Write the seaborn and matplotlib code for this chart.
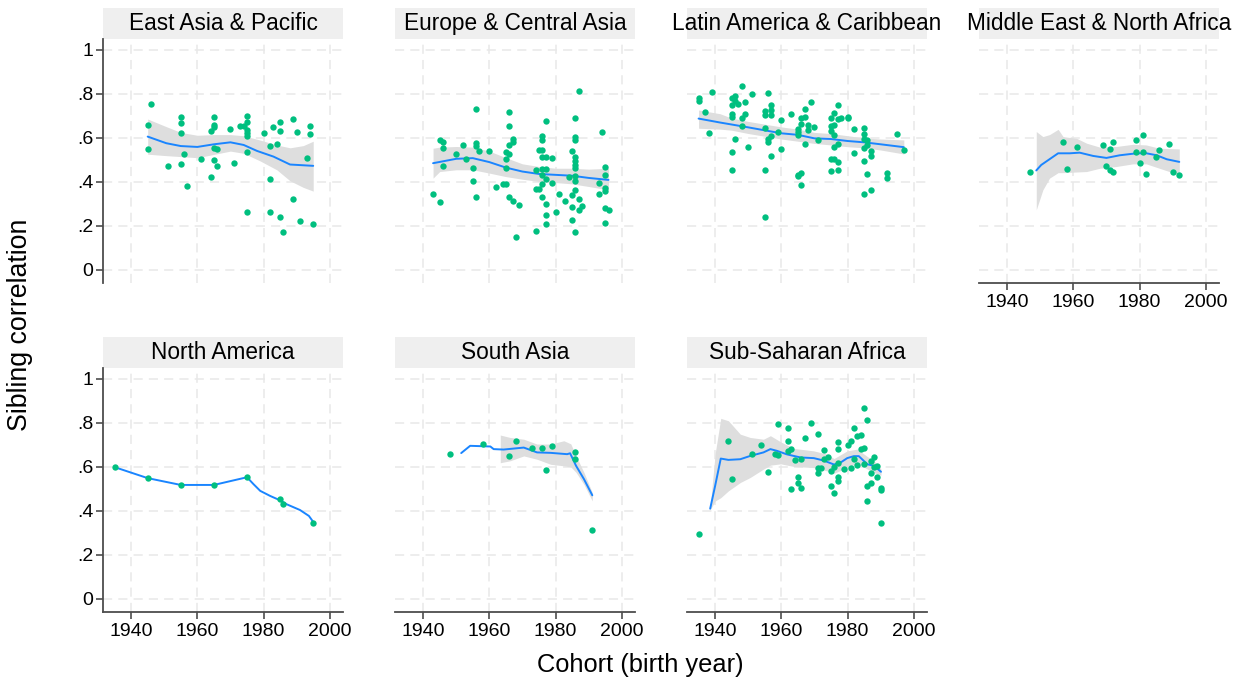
import numpy as np
import pandas as pd
import matplotlib
matplotlib.use("Agg")
import matplotlib.pyplot as plt
import seaborn as sns
from matplotlib.patches import Rectangle

# ---------------------------------------------------------------------------
# Sibling correlations by birth cohort, one panel per World Bank region.
# Each region: observed correlations (points), a local fit and its 95% band.
# ---------------------------------------------------------------------------

# East Asia & Pacific
eap_year = [1946, 1945, 1945, 1951, 1955, 1955, 1955, 1956, 1955, 1957, 1961, 1965, 1965,
            1965, 1964, 1965, 1966, 1965, 1966, 1964, 1970, 1971, 1973, 1974, 1975, 1975,
            1975, 1975, 1975, 1975, 1975, 1980, 1982, 1983, 1984, 1985, 1985, 1982, 1982,
            1985, 1986, 1989, 1990, 1989, 1991, 1993, 1994, 1994, 1995]
eap_corr = [.756, .661, .55, .47, .694, .667, .621, .526, .482, .379, .505, .694, .658,
            .648, .633, .553, .548, .498, .473, .423, .639, .486, .655, .655, .698, .671,
            .636, .624, .611, .538, .264, .623, .561, .648, .571, .673, .633, .414, .264,
            .241, .174, .688, .626, .32, .221, .508, .655, .62, .209]
eap_fit_year = [1945, 1950.6, 1955, 1960, 1965, 1970, 1974, 1978, 1983, 1988, 1995]
eap_fit = [.606, .576, .563, .559, .571, .58, .568, .541, .515, .479, .473]
eap_band_year = [1945, 1950, 1955, 1960, 1965, 1970, 1974, 1979, 1984, 1988, 1992, 1995]
eap_hi = [.686, .655, .625, .612, .615, .615, .61, .59, .568, .555, .565, .585]
eap_lo = [.526, .52, .515, .51, .525, .54, .53, .495, .455, .405, .375, .358]

# Europe & Central Asia
eca_year = [1943, 1945, 1945, 1946, 1946, 1946, 1950, 1952, 1953, 1955, 1955, 1956, 1956,
            1956, 1956, 1957, 1960, 1962, 1964, 1965, 1965, 1965, 1965, 1966, 1966, 1966,
            1966, 1967, 1967, 1966, 1967, 1968, 1969, 1974, 1974, 1974, 1975, 1975, 1976,
            1976, 1976, 1976, 1977, 1977, 1976, 1977, 1976, 1977, 1976, 1976, 1977, 1977,
            1977, 1979, 1979, 1980, 1981, 1983, 1984, 1985, 1985, 1985, 1985, 1986, 1986,
            1986, 1986, 1986, 1986, 1986, 1986, 1986, 1986, 1986, 1987, 1987, 1987, 1988,
            1993, 1993, 1994, 1995, 1995, 1995, 1995, 1995, 1996, 1995]
eca_corr = [.347, .308, .591, .58, .553, .473, .529, .567, .503, .465, .405, .733, .577,
            .564, .33, .539, .539, .376, .391, .391, .505, .464, .536, .718, .656, .526,
            .57, .597, .583, .332, .315, .148, .297, .177, .455, .368, .368, .544, .544,
            .611, .591, .515, .511, .676, .458, .458, .432, .414, .391, .333, .3, .248,
            .208, .509, .394, .264, .344, .314, .42, .539, .342, .285, .226, .692, .606,
            .591, .511, .495, .477, .462, .427, .402, .361, .173, .814, .32, .271, .291,
            .394, .347, .627, .467, .433, .374, .359, .28, .273, .212]
eca_fit_year = [1943, 1950, 1955, 1960, 1965, 1970, 1975, 1980, 1985, 1990, 1996]
eca_fit = [.485, .505, .508, .49, .465, .447, .436, .432, .428, .418, .409]
eca_band_year = [1943, 1945, 1950, 1955, 1960, 1965, 1970, 1975, 1980, 1985, 1990, 1996]
eca_hi = [.553, .558, .561, .558, .54, .51, .482, .47, .462, .462, .458, .462]
eca_lo = [.417, .447, .455, .455, .44, .424, .412, .402, .397, .391, .379, .364]

# Latin America & Caribbean
lac_year = [1935, 1935, 1937, 1938, 1939, 1945, 1945, 1945, 1945, 1945, 1945, 1946, 1946,
            1946, 1947, 1948, 1948, 1948, 1949, 1949, 1950, 1951, 1955, 1955, 1955, 1955,
            1955, 1956, 1956, 1956, 1957, 1957, 1957, 1957, 1957, 1959, 1960, 1960, 1963,
            1965, 1965, 1965, 1965, 1965, 1966, 1966, 1966, 1966, 1967, 1967, 1967, 1968,
            1968, 1969, 1970, 1971, 1975, 1975, 1975, 1975, 1975, 1976, 1976, 1976, 1976,
            1976, 1977, 1977, 1977, 1977, 1977, 1978, 1980, 1980, 1982, 1982, 1985, 1985,
            1985, 1985, 1985, 1985, 1986, 1986, 1986, 1987, 1987, 1987, 1992, 1992, 1995,
            1997]
lac_corr = [.783, .768, .718, .621, .808, .78, .752, .711, .697, .535, .455, .792, .77,
            .594, .755, .835, .689, .653, .762, .708, .558, .798, .724, .706, .647, .455,
            .239, .803, .594, .58, .752, .729, .703, .608, .52, .626, .68, .548, .709,
            .641, .629, .614, .433, .426, .692, .664, .439, .388, .73, .697, .571, .661,
            .638, .764, .65, .589, .689, .655, .633, .505, .448, .715, .659, .614, .558,
            .505, .752, .685, .571, .492, .453, .692, .697, .689, .639, .532, .647, .617,
            .595, .553, .497, .344, .591, .568, .435, .541, .517, .364, .439, .418, .62,
            .544]
lac_fit_year = [1935, 1941.5, 1945, 1950, 1960, 1965, 1970, 1975, 1980, 1985, 1990, 1997]
lac_fit = [.688, .67, .661, .648, .621, .614, .598, .595, .586, .58, .571, .558]
lac_band_year = lac_fit_year
lac_hi = [.727, .71, .69, .675, .65, .64, .625, .62, .61, .6, .595, .591]
lac_lo = [.644, .64, .635, .62, .595, .585, .575, .568, .56, .555, .545, .527]

# Middle East & North Africa
mena_year = [1947, 1957, 1958, 1961, 1969, 1970, 1971, 1971, 1972, 1972, 1979, 1979, 1980,
             1981, 1981, 1982, 1985, 1986, 1989, 1990, 1992]
mena_corr = [.447, .583, .458, .558, .568, .47, .548, .452, .58, .444, .591, .536, .486,
             .612, .535, .436, .511, .547, .574, .444, .43]
mena_fit_year = [1948.8, 1950.3, 1952.8, 1955.4, 1958.9, 1961.9, 1966, 1970, 1974, 1979.1,
                 1982.1, 1985.2, 1988.2, 1992]
mena_fit = [.452, .477, .503, .53, .53, .533, .518, .509, .521, .53, .53, .521, .503, .491]
mena_band_year = [1948.8, 1950.8, 1952.8, 1955.4, 1956.9, 1961, 1964, 1968, 1973, 1978,
                  1982, 1986, 1992]
mena_hi = [.629, .606, .615, .639, .606, .598, .576, .558, .561, .571, .568, .553, .55]
mena_lo = [.273, .364, .417, .442, .442, .445, .447, .462, .47, .482, .482, .462, .432]

# North America
na_year = [1935, 1945, 1955, 1965, 1975, 1985, 1986, 1995]
na_corr = [.599, .549, .517, .518, .553, .453, .433, .343]
na_fit_year = [1936.2, 1945, 1955, 1965, 1975, 1977, 1979, 1982, 1985, 1987, 1991,
               1993.7, 1995]
na_fit = [.593, .549, .518, .518, .553, .521, .491, .468, .448, .43, .404, .377, .35]
na_band_year = []
na_hi = []
na_lo = []

# South Asia
sar_year = [1948, 1958, 1966, 1968, 1973, 1976, 1977, 1979, 1986, 1986, 1991]
sar_corr = [.661, .704, .65, .716, .685, .684, .584, .693, .67, .635, .315]
sar_fit_year = [1951.5, 1954.2, 1960.3, 1961.3, 1964.3, 1970.4, 1974.4, 1978.5, 1983.5,
                1984.4, 1986.2, 1988.6, 1991.1]
sar_fit = [.663, .696, .693, .681, .679, .688, .666, .664, .658, .662, .605, .544, .471]
sar_band_year = [1963.3, 1966.3, 1970.4, 1974.4, 1978.5, 1982.5, 1984.6, 1986.2, 1988.6,
                 1991.1]
sar_hi = [.745, .734, .726, .704, .704, .719, .705, .65, .574, .483]
sar_lo = [.619, .628, .65, .635, .612, .605, .6, .575, .52, .445]

# Sub-Saharan Africa
ssa_year = [1935, 1944, 1945, 1951, 1954, 1956, 1958, 1959, 1959, 1962, 1962, 1962, 1963,
            1963, 1964, 1965, 1965, 1966, 1966, 1967, 1969, 1971, 1971, 1971, 1972, 1973,
            1973, 1974, 1975, 1975, 1976, 1976, 1977, 1977, 1977, 1977, 1977, 1979, 1980,
            1981, 1981, 1982, 1982, 1983, 1983, 1984, 1984, 1985, 1985, 1985, 1986, 1986,
            1986, 1987, 1987, 1987, 1988, 1988, 1989, 1989, 1990, 1990, 1990]
ssa_corr = [.296, .717, .543, .657, .699, .578, .657, .795, .652, .777, .717, .672, .681,
            .498, .631, .555, .526, .635, .505, .73, .798, .751, .594, .574, .596, .678,
            .635, .643, .582, .515, .483, .6, .714, .682, .616, .552, .536, .591, .698,
            .72, .597, .775, .635, .742, .608, .745, .681, .868, .688, .612, .813, .514,
            .447, .626, .574, .529, .646, .599, .605, .556, .505, .495, .343]
ssa_fit_year = [1938.5, 1940, 1941.7, 1944, 1947.6, 1950.6, 1954.6, 1956.7, 1958.7, 1961.7,
                1965.8, 1969.8, 1972.8, 1975.9, 1977.9, 1979.9, 1981.9, 1983.4, 1986,
                1988, 1990.1]
ssa_fit = [.41, .514, .638, .632, .635, .65, .666, .681, .673, .657, .643, .64, .629, .611,
           .62, .64, .649, .649, .612, .605, .578]
ssa_band_year = [1938.5, 1940, 1941.7, 1944, 1947.6, 1950.6, 1954.6, 1956.7, 1959.8,
                 1963.8, 1969.8, 1973.8, 1975.9, 1979.9, 1982.9, 1986, 1988, 1990.1]
ssa_hi = [.415, .66, .821, .81, .749, .734, .726, .742, .714, .684, .673, .658, .638, .673,
          .681, .647, .628, .59]
ssa_lo = [.405, .445, .46, .491, .529, .552, .59, .608, .614, .602, .597, .582, .571, .597,
          .617, .59, .574, .562]

region_names = ["East Asia & Pacific", "Europe & Central Asia", "Latin America & Caribbean",
                "Middle East & North Africa", "North America", "South Asia",
                "Sub-Saharan Africa"]

x_ticks = [1940, 1960, 1980, 2000]
y_ticks = [0, .2, .4, .6, .8, 1]
y_tick_labels = ["0", ".2", ".4", ".6", ".8", "1"]

series = [
    (eap_year, eap_corr, eap_fit_year, eap_fit, eap_band_year, eap_lo, eap_hi),
    (eca_year, eca_corr, eca_fit_year, eca_fit, eca_band_year, eca_lo, eca_hi),
    (lac_year, lac_corr, lac_fit_year, lac_fit, lac_band_year, lac_lo, lac_hi),
    (mena_year, mena_corr, mena_fit_year, mena_fit, mena_band_year, mena_lo, mena_hi),
    (na_year, na_corr, na_fit_year, na_fit, na_band_year, na_lo, na_hi),
    (sar_year, sar_corr, sar_fit_year, sar_fit, sar_band_year, sar_lo, sar_hi),
    (ssa_year, ssa_corr, ssa_fit_year, ssa_fit, ssa_band_year, ssa_lo, ssa_hi),
]

points = pd.concat(
    [pd.DataFrame({"region": name, "cohort": s[0], "corr": s[1]})
     for name, s in zip(region_names, series)],
    ignore_index=True)

# ---------------------------------------------------------------------------
sns.set_style("white")
plt.rcParams["font.family"] = ["Liberation Sans", "DejaVu Sans"]
plt.rcParams["text.color"] = "black"

GREEN = "#00bf7f"
BLUE = "#1a85ff"
BAND = "#dedede"
STRIP = "#efefef"
GRID = "#e8e8e8"
AXIS = "#4d4d4d"

W, H = 1241, 681
fig = plt.figure(figsize=(W / 100, H / 100), dpi=100)

col_left = [103, 395, 687, 979]
row_top = [39, 368]
panel_w, panel_h = 240, 244
strip_h = 31

# (column, row, show y axis, show x axis)
layout = [(0, 0, True, False), (1, 0, False, False), (2, 0, False, False),
          (3, 0, False, True), (0, 1, True, True), (1, 1, False, True),
          (2, 1, False, True)]

for name, s, (c, r, show_y, show_x) in zip(region_names, series, layout):
    yr, corr, fyr, fit, byr, lo, hi = s
    left = col_left[c]
    top = row_top[r]
    ax = fig.add_axes([left / W, 1 - (top + panel_h) / H, panel_w / W, panel_h / H])
    ax.set_xlim(1931.5, 2004)
    ax.set_ylim(-0.06, 1.05)
    ax.set_xticks(x_ticks)
    ax.set_yticks(y_ticks)
    ax.grid(True, color=GRID, lw=1.1, ls=(0, (6, 4)))
    ax.set_axisbelow(True)

    if len(byr):
        ax.fill_between(byr, lo, hi, color=BAND, lw=0, zorder=1)
    sns.lineplot(x=fyr, y=fit, ax=ax, color=BLUE, lw=1.4, estimator=None,
                 sort=False, zorder=2)
    sns.scatterplot(data=points[points["region"] == name], x="cohort", y="corr",
                    ax=ax, color=GREEN, s=21, linewidth=0, zorder=3)

    for side in ("top", "right"):
        ax.spines[side].set_visible(False)
    ax.spines["left"].set_visible(show_y)
    ax.spines["bottom"].set_visible(show_x)
    for side in ("left", "bottom"):
        ax.spines[side].set_color(AXIS)
        ax.spines[side].set_linewidth(1.3)

    ax.tick_params(axis="y", left=show_y, labelleft=show_y, length=5, width=1.2,
                   color=AXIS, labelcolor="black", labelsize=14, pad=2)
    ax.tick_params(axis="x", bottom=show_x, labelbottom=show_x, length=5, width=1.2,
                   color=AXIS, labelcolor="black", labelsize=14, pad=3)
    if show_y:
        ax.set_yticklabels(y_tick_labels)
    ax.set_xlabel("")
    ax.set_ylabel("")

    # panel title strip
    ax.add_patch(Rectangle((0, 1), 1, strip_h / panel_h, transform=ax.transAxes,
                           facecolor=STRIP, edgecolor="none", clip_on=False))
    ax.text(0.5, 1 + strip_h / panel_h / 2, name, transform=ax.transAxes,
            ha="center", va="center", fontsize=16.3, color="black")

fig.text(640 / W, 1 - 665 / H, "Cohort (birth year)", ha="center", va="center",
         fontsize=18.3, color="black")
fig.text(20 / W, 1 - 325 / H, "Sibling correlation", ha="center", va="center",
         rotation=90, fontsize=19.3, color="black")

fig.savefig("out.png", dpi=100, facecolor="white")
